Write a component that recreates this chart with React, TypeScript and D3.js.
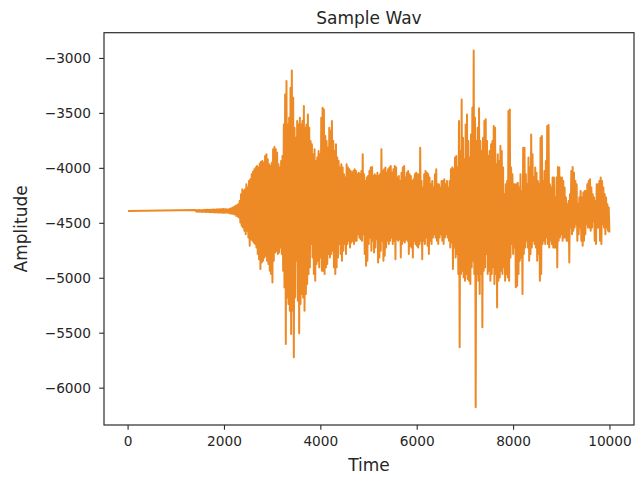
import React from "react";
import * as d3 from "d3";

// ---- data ----
const sampleCount = 10000;
const quietValue = -4388; // flat level at the very start (time 0)
const burstStart = 1400; // time of the first envelope column
const samplesPerColumn = 27.75; // time spacing of the envelope columns

// upper peaks (one per column)
const upperPeaks = [
  // quiet lead-in
  -4380, -4381, -4380, -4379, -4381, -4380, -4379, -4378, -4378, -4377, -4378,
  -4376, -4377, -4375, -4374, -4376, -4373, -4374, -4372, -4373, -4371, -4370,
  // onset & first burst
  -4372, -4372, -4375, -4372, -4366, -4363, -4357, -4350, -4341, -4335,
  -4326, -4296, -4235, -4190, -4205, -4190, -4145, -4175, -4114, -4099,
  -4054, -4030, -4008, -3993, -3978, -3993, -3957, -3939, -3933, -3948,
  -3887, -3872, -3918, -3963, -3978, -3948, -3827, -3806, -3827, -3857,
  -3963, -3993, -3933, -3887, -3600, -3327, -3206, -3600, -3539, -3267,
  -3109, -3358, -3630, -3721, -3569, -3600, -3539, -3600, -3569, -3433,
  -3630, -3600, -3509, -3630, -3751, -3781, -3872, -3827, -3933, -3902,
  -3842, -3872, -3539, -3448, -3464, -3706, -3751, -3812, -3630, -3660,
  -3569, -3751, -3842, -3781, -3902, -3933, -3993, -3963, -3993, -4054,
  -4084, -3963, -3993, -4008, -4024, -4039, -4024, -4008,
  // middle section & second burst
  -4024, -4054, -4039, -4054, -4024, -3872, -4054, -4114, -4084, -4069,
  -4024, -3993, -3987, -4069, -4054, -4069, -4039, -4069, -4054, -3827,
  -4024, -4008, -3993, -4039, -4008, -3993, -3978, -4039, -4008, -3978,
  -3993, -4084, -4069, -4114, -4039, -3993, -3978, -4084, -4039, -4024,
  -4054, -4069, -4114, -4099, -4054, -4039, -4054, -4054, -3812, -4114,
  -4175, -4054, -4024, -4039, -4054, -4084, -4145, -4114, -4175, -4054,
  -4008, -4145, -4145, -4175, -4114, -4114, -4099, -4145, -4114, -4175,
  -4114, -4008, -3993, -4008, -3902, -3887, -3993, -3569, -3842, -3373,
  -3721, -3918, -3600, -3509, -3751, -3902, -3691, -3448, -2928, -3539,
  -3751, -3630, -3454, -3751,
  // tail
  -3842, -3721, -3569, -3554, -3751, -3887, -3842, -3781, -3751, -3615,
  -3630, -3963, -3872, -3933, -3797, -3842, -3993, -4235, -4145, -4114,
  -3479, -3464, -3993, -4054, -4145, -4145, -4145, -4130, -4175, -4054,
  -4205, -3812, -3812, -4054, -4145, -3902, -3993, -3691, -3872, -4084,
  -3993, -4039, -4114, -4145, -3721, -3706, -4114, -4024, -3933, -3615,
  -3606, -4145, -4175, -4084, -4084, -4266, -4084, -3987, -3993, -4084,
  -4084, -4114, -4175, -4266, -4326, -4296, -4235, -4024, -3987, -4039,
  -4114, -4145, -4326, -4266, -4205, -4266, -4220, -4205, -4205, -4145,
  -4114, -4099, -4175, -4235, -4266, -4296, -4145, -4145, -4114, -4084,
  -4114, -4175, -4235, -4266, -4326, -4357,
];

// lower peaks (one per column)
const lowerPeaks = [
  // quiet lead-in
  -4394, -4393, -4395, -4394, -4395, -4396, -4395, -4397, -4396, -4398, -4397,
  -4399, -4398, -4400, -4401, -4399, -4402, -4401, -4403, -4402, -4404, -4405,
  // onset & first burst
  -4402, -4402, -4405, -4408, -4411, -4411, -4417, -4417, -4432, -4438,
  -4447, -4493, -4523, -4538, -4568, -4599, -4568, -4629, -4705, -4644,
  -4659, -4674, -4689, -4720, -4780, -4826, -4916, -4856, -4841, -4811,
  -4795, -4841, -4871, -4932, -4962, -5038, -4841, -4765, -4750, -4780,
  -4765, -4720, -4780, -4932, -5083, -5598, -5174, -5234, -5295, -5507,
  -5295, -5719, -5174, -4841, -5204, -5501, -5234, -5144, -5174, -5295,
  -5144, -5053, -4962, -4901, -4689, -4811, -4962, -5022, -4871, -4841,
  -4901, -4811, -4932, -4932, -4962, -4901, -4871, -4780, -4811, -4780,
  -4750, -4901, -4962, -4901, -4811, -4689, -4780, -4841, -4750, -4689,
  -4780, -4689, -4659, -4720, -4674, -4659, -4689, -4659,
  // middle section & second burst
  -4659, -4599, -4629, -4644, -4659, -4599, -4780, -4886, -4841, -4689,
  -4629, -4750, -4659, -4765, -4720, -4644, -4856, -4811, -4750, -4659,
  -4841, -4795, -4720, -4659, -4689, -4659, -4629, -4689, -4659, -4826,
  -4644, -4659, -4644, -4811, -4689, -4659, -4674, -4644, -4659, -4780,
  -4705, -4720, -4811, -4659, -4689, -4705, -4720, -4689, -4659, -4826,
  -4659, -4689, -4629, -4705, -4780, -4659, -4689, -4629, -4599, -4629,
  -4659, -4689, -4629, -4599, -4659, -4689, -4629, -4599, -4629, -4659,
  -4720, -4674, -4916, -4720, -4811, -4780, -4962, -5628, -4962, -4932,
  -4992, -5022, -4962, -5007, -5022, -5053, -4901, -4841, -4962, -6173,
  -4962, -5022, -5144, -4962,
  // tail
  -5446, -4932, -4901, -4780, -4962, -4932, -5022, -4962, -4901, -5053,
  -4962, -5265, -5022, -4992, -4932, -4962, -4901, -5022, -4962, -4992,
  -5022, -4811, -4689, -4780, -4720, -5083, -5068, -4962, -4841, -4811,
  -5144, -4780, -4720, -4659, -4720, -4841, -4780, -4720, -4659, -4689,
  -4720, -4841, -4780, -5022, -4962, -4689, -4659, -4689, -4629, -4689,
  -4720, -4659, -4689, -4720, -4720, -4720, -4901, -4659, -4629, -4599,
  -4659, -4629, -4629, -4659, -4659, -4856, -4538, -4599, -4568, -4538,
  -4508, -4659, -4599, -4538, -4659, -4705, -4659, -4599, -4508, -4538,
  -4538, -4568, -4538, -4478, -4659, -4689, -4538, -4538, -4659, -4689,
  -4508, -4538, -4599, -4538, -4568, -4584,
];

const xTicks = [0, 2000, 4000, 6000, 8000, 10000];
const yTicks = [-6000, -5500, -5000, -4500, -4000, -3500, -3000];

const titleText = "Sample Wav";
const xLabel = "Time";
const yLabel = "Amplitude";

// ---- layout ----
const W = 640;
const H = 477;
const plot = { left: 104, right: 634, top: 32.7, bottom: 425 };
const lineColor = "#ed8a25";
const axisColor = "#2b2b2b";
const textColor = "#262626";
const font = "'DejaVu Sans', sans-serif";

export default function App() {
  const points: [number, number][] = [[0, quietValue]];
  upperPeaks.forEach((hi, k) => {
    const t = burstStart + k * samplesPerColumn;
    points.push([t, hi]);
    points.push([t + samplesPerColumn / 2, lowerPeaks[k]]);
  });

  const xMax = sampleCount - 1;
  const x = d3
    .scaleLinear()
    .domain([-0.05 * xMax, xMax * 1.05])
    .range([plot.left, plot.right]);

  const [yMin, yMax] = d3.extent(points, (d) => d[1]) as [number, number];
  const pad = (yMax - yMin) * 0.05;
  const y = d3
    .scaleLinear()
    .domain([yMin - pad, yMax + pad])
    .range([plot.bottom, plot.top]);

  const line = d3
    .line<[number, number]>()
    .x((d) => x(d[0]))
    .y((d) => y(d[1]));

  const fmt = d3.format("d");
  const tickLen = 4.8;

  return (
    <svg
      width={W}
      height={H}
      style={{ position: "absolute", left: 0, top: 0, background: "#fff" }}
      fontFamily={font}
    >
      <rect x={0} y={0} width={W} height={H} fill="#fff" />
      <defs>
        <clipPath id="plotClip">
          <rect
            x={plot.left}
            y={plot.top}
            width={plot.right - plot.left}
            height={plot.bottom - plot.top}
          />
        </clipPath>
      </defs>
      <path
        d={line(points) || ""}
        fill="none"
        stroke={lineColor}
        strokeWidth={2}
        strokeLinejoin="round"
        clipPath="url(#plotClip)"
      />
      <rect
        x={plot.left}
        y={plot.top}
        width={plot.right - plot.left}
        height={plot.bottom - plot.top}
        fill="none"
        stroke={axisColor}
        strokeWidth={1.2}
      />
      {xTicks.map((t) => (
        <g key={"x" + t}>
          <line
            x1={x(t)}
            x2={x(t)}
            y1={plot.bottom}
            y2={plot.bottom + tickLen}
            stroke={axisColor}
            strokeWidth={1.1}
          />
          <text
            x={x(t)}
            y={plot.bottom + 21}
            textAnchor="middle"
            fontSize={13.7}
            fill={textColor}
          >
            {fmt(t)}
          </text>
        </g>
      ))}
      {yTicks.map((t) => (
        <g key={"y" + t}>
          <line
            x1={plot.left - tickLen}
            x2={plot.left}
            y1={y(t)}
            y2={y(t)}
            stroke={axisColor}
            strokeWidth={1.1}
          />
          <text
            x={plot.left - 13}
            y={y(t) + 4.8}
            textAnchor="end"
            fontSize={13.7}
            fill={textColor}
          >
            {fmt(t)}
          </text>
        </g>
      ))}
      <text
        x={(plot.left + plot.right) / 2}
        y={471}
        textAnchor="middle"
        fontSize={17}
        fill={textColor}
      >
        {xLabel}
      </text>
      <text
        transform={`translate(27, ${(plot.top + plot.bottom) / 2}) rotate(-90)`}
        textAnchor="middle"
        fontSize={17}
        fill={textColor}
      >
        {yLabel}
      </text>
      <text
        x={(plot.left + plot.right) / 2}
        y={23.5}
        textAnchor="middle"
        fontSize={17}
        fill={textColor}
      >
        {titleText}
      </text>
    </svg>
  );
}
